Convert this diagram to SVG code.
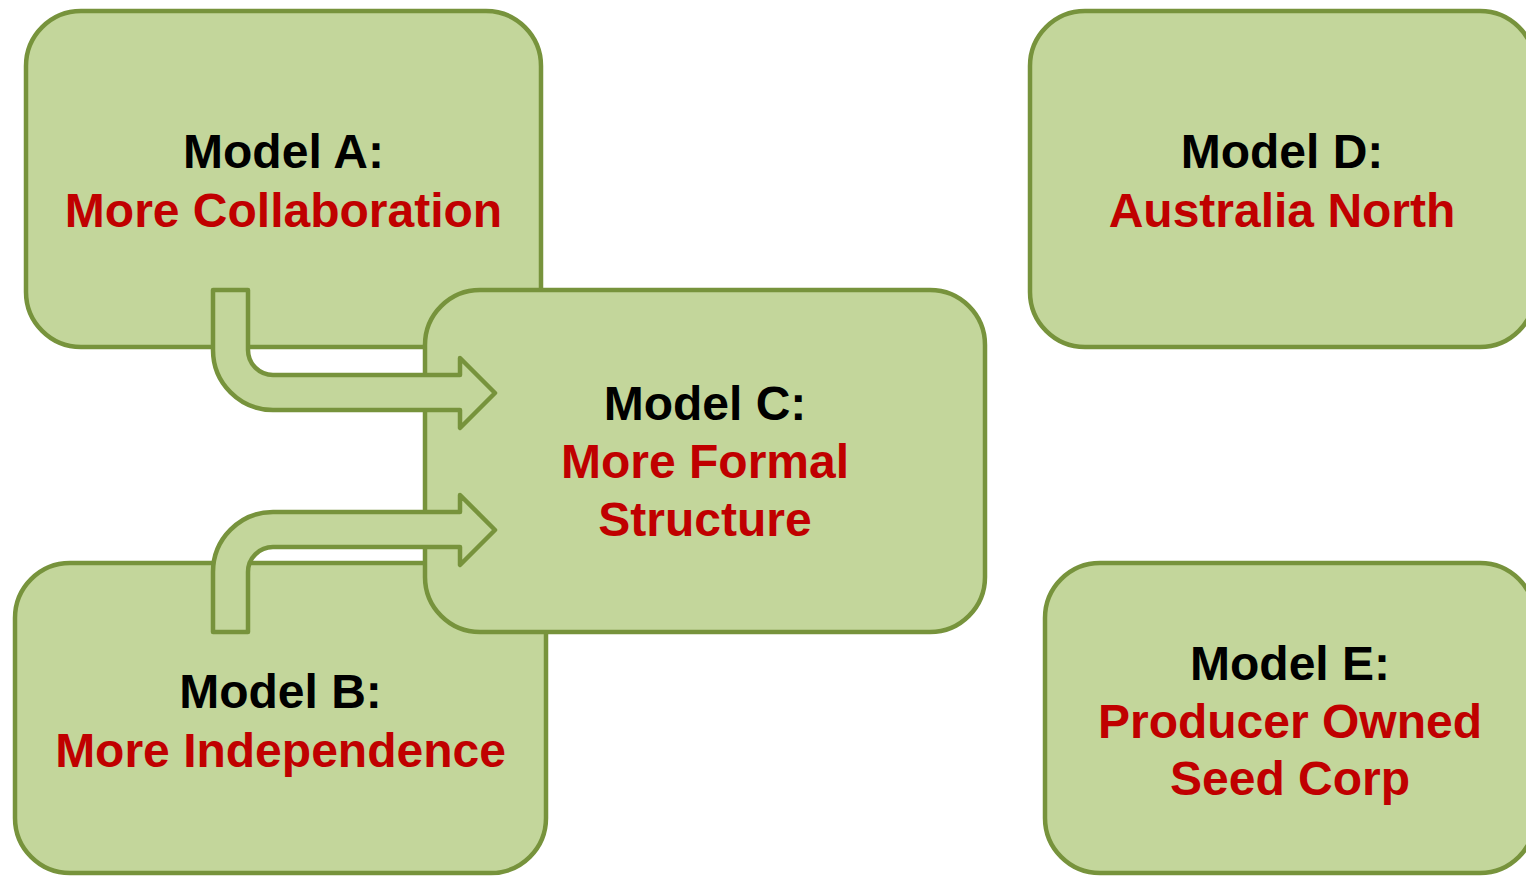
<svg xmlns="http://www.w3.org/2000/svg" width="1526" height="877" viewBox="0 0 1526 877">
<style>
.box{fill:#C3D69B;stroke:#77933C;stroke-width:4.5}
.arr{fill:#C3D69B;stroke:#77933C;stroke-width:4.5;stroke-linejoin:round}
text{font-family:"Liberation Sans",Arial,sans-serif;font-weight:bold;font-size:48px;text-anchor:middle}
.t{fill:#000}
.r{fill:#C00000}
</style>
<rect width="1526" height="877" fill="#fff"/>
<g id="nodeA">
<rect class="box" x="26" y="11" width="515" height="336" rx="55"/>
<text class="t" x="283.5" y="168">Model A:</text>
<text class="r" x="283.5" y="227">More Collaboration</text>
</g>
<g id="nodeD">
<rect class="box" x="1030" y="11" width="505" height="336" rx="55"/>
<text class="t" x="1282" y="168">Model D:</text>
<text class="r" x="1282" y="227">Australia North</text>
</g>
<g id="nodeB">
<rect class="box" x="15" y="563" width="531" height="310" rx="55"/>
<text class="t" x="280.5" y="708">Model B:</text>
<text class="r" x="280.5" y="767">More Independence</text>
</g>
<g id="nodeE">
<rect class="box" x="1045" y="563" width="490" height="310" rx="55"/>
<text class="t" x="1290" y="680">Model E:</text>
<text class="r" x="1290" y="738">Producer Owned</text>
<text class="r" x="1290" y="795">Seed Corp</text>
</g>
<g id="nodeC">
<rect class="box" x="425" y="290" width="560" height="342" rx="55"/>
<text class="t" x="705" y="420">Model C:</text>
<text class="r" x="705" y="478">More Formal</text>
<text class="r" x="705" y="536">Structure</text>
</g>
<g id="connectors">
<path class="arr" d="M213 290 L248 290 L248 350 A25 25 0 0 0 273 375 L460 375 L460 358 L495 393 L460 428 L460 410 L273 410 A60 60 0 0 1 213 350 Z"/>
<path class="arr" d="M213 632 L213 572 A60 60 0 0 1 273 512 L460 512 L460 495 L495 530 L460 565 L460 547 L273 547 A25 25 0 0 0 248 572 L248 632 Z"/>
</g>
</svg>
